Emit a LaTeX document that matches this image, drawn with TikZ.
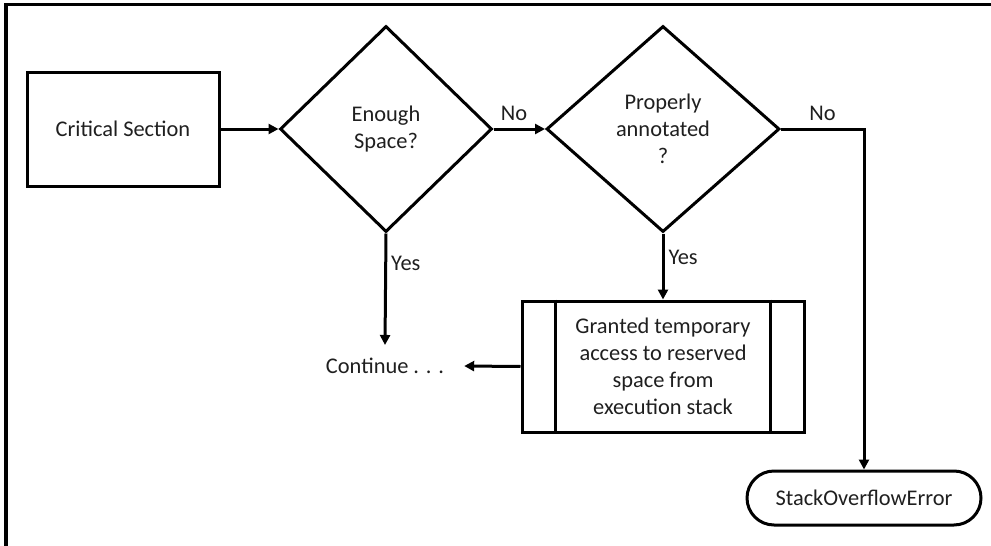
\documentclass[tikz,border=0pt]{standalone}
\usepackage{fontspec}
\setmainfont{Carlito}
\usetikzlibrary{shapes.geometric,arrows.meta}
\begin{document}
\begin{tikzpicture}[x=1pt,y=-1pt,
  every node/.style={font=\fontsize{22.4}{26.8}\selectfont, text=black!88},
  ln/.style={line width=3pt, draw=black},
  arr/.style={ln, -{Triangle[length=10pt,width=10pt]}},
  boxstyle/.style={ln, rectangle, inner sep=0pt, align=center},
  dia/.style={ln, diamond, inner sep=0pt, align=center},
  lbl/.style={inner sep=4pt},
  lblup/.style={inner sep=7pt}
]
\useasboundingbox (0,0) rectangle (991,546);
% frame
\draw[line width=3.2pt] (6,546) -- (6,4.5) -- (991,4.5);

\node[boxstyle, minimum width=192pt, minimum height=114pt] (cs) at (123,129) {Critical Section};
\node[dia, minimum width=212pt, minimum height=206pt] (d1) at (386,129) {Enough\\Space?};
\node[dia, minimum width=233pt, minimum height=206pt] (d2) at (663,129) {Properly\\annotated\\?};
\node[boxstyle, minimum width=282pt, minimum height=131pt] (pb) at (663,366.5) {Granted temporary\\access to reserved\\space from\\execution stack};
\draw[ln] ([xshift=35pt]pb.north west) -- ([xshift=35pt]pb.south west);
\draw[ln] ([xshift=-35pt]pb.north east) -- ([xshift=-35pt]pb.south east);
\node[inner xsep=20pt, inner ysep=13pt] (cont) at (385,366) {Continue . . .};
\node[ln, rectangle, rounded corners=27pt, minimum width=234pt, minimum height=54pt, inner sep=0pt] (soe) at (864,498) {StackOverflowError};

\draw[arr] (cs.east) -- (d1.west);
\draw[arr] (d1.east) -- node[lblup, pos=0.4, anchor=south] {No} (d2.west);
\draw[arr] (d1.south) -- node[lbl, pos=0.27, anchor=west] {Yes} (cont.north);
\draw[arr] (d2.south) -- node[lbl, pos=0.36, anchor=west] {Yes} (pb.north);
\draw[arr] (pb.west) -- (cont.east);
\draw[arr] (d2.east) -| node[lblup, pos=0.25, anchor=south] {No} (soe.north);
\end{tikzpicture}
\end{document}
